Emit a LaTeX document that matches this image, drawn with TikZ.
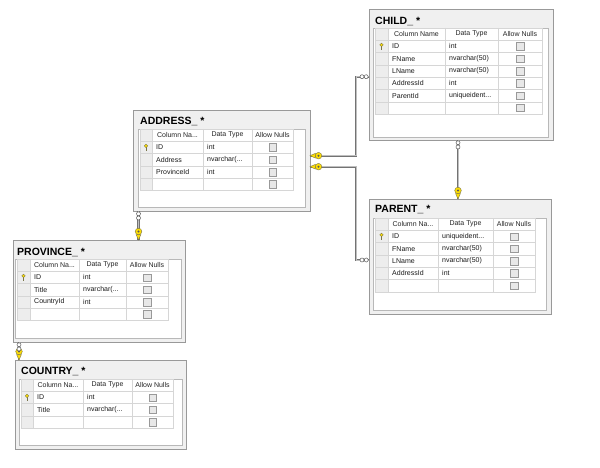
\documentclass[tikz,border=0pt]{standalone}
\usepackage{fontspec}
\setmainfont{Liberation Sans}

\begin{document}
\begin{tikzpicture}[x=1pt, y=-1pt,
  tablebox/.style={draw=black!40, fill=black!6, anchor=north west, inner sep=0, outer sep=0},
  panel/.style={draw=black!28, fill=white},
  cellline/.style={draw=black!16, line width=0.4pt},
  selcol/.style={fill=black!7},
  tabletitle/.style={anchor=west, inner sep=0, font=\fontsize{10.5}{12}\selectfont\bfseries},
  head/.style={inner sep=0, font=\fontsize{7}{8}\selectfont, text=black!85},
  entry/.style={anchor=west, inner sep=0, font=\fontsize{7}{8}\selectfont, text=black!90},
  nullbox/.style={draw=black!40, fill=black!9, minimum size=7.5pt, inner sep=0},
  relation/.style={draw=black!55, double=black!25, double distance=0.9pt, line width=0.6pt},
  keypart/.style={draw=black!60!yellow, fill=yellow!80!orange, line width=0.4pt},
  pics/relkey/.style={code={
    \filldraw[keypart] (0pt,0pt) -- (5.5pt,2.4pt) -- (5.5pt,-2.4pt) -- cycle;
    \filldraw[keypart] (8.5pt,0pt) circle (3.3pt);
    \fill[black!65] (8.5pt,0pt) circle (1.1pt);
  }},
  pics/relmany/.style={code={
    \filldraw[draw=black!65, fill=white, line width=0.5pt]
      (-2.8pt,0pt) circle (2pt) (-7pt,0pt) circle (2pt);
  }},
  pics/idkey/.style={code={
    \draw[black!60!yellow, line width=0.9pt] (0pt,0.5pt) -- (0pt,-3.2pt);
    \filldraw[keypart, line width=0.3pt] (0pt,1.6pt) circle (1.8pt);
  }},
]
\path[use as bounding box, fill=white] (0,0) rectangle (600,468);

% table frames
\node[tablebox, minimum width=177pt, minimum height=101pt] (address) at (133,110) {};
\node[tablebox, minimum width=184pt, minimum height=131pt] (child) at (369,9) {};
\node[tablebox, minimum width=182pt, minimum height=115pt] (parent) at (369,199) {};
\node[tablebox, minimum width=172pt, minimum height=102pt] (province) at (13,240) {};
\node[tablebox, minimum width=171pt, minimum height=89pt] (country) at (15,360) {};

\draw[panel] (138,129) rectangle (305,207);
\draw[panel] (373,28) rectangle (548,137);
\draw[panel] (373,218) rectangle (546,310);
\draw[panel] (15,259) rectangle (181,338);
\draw[panel] (19,379) rectangle (182,445);

\node[tabletitle] (adr-title) at (140,121) {ADDRESS\_ *};
\node[tabletitle] (chi-title) at (375,21) {CHILD\_ *};
\node[tabletitle] (par-title) at (375,210) {PARENT\_ *};
\node[tabletitle] (pro-title) at (17,252) {PROVINCE\_ *};
\node[tabletitle] (cou-title) at (21,371) {COUNTRY\_ *};

% ADDRESS
\begin{scope}[shift={(140pt,-129pt)}, y=-12.3pt]
\fill[selcol] (0,0) rectangle (12,5);
\draw[cellline] (0,0) rectangle (153,5);
\draw[cellline] (0,1) -- (153,1) (0,2) -- (153,2) (0,3) -- (153,3) (0,4) -- (153,4);
\draw[cellline] (12,0) -- (12,5) (63,0) -- (63,5) (112,0) -- (112,5);
\node[head] (adr-h1) at (37.5,0.5) {Column Na...};
\node[head] (adr-h2) at (87.5,0.5) {Data Type};
\node[head] (adr-h3) at (132.5,0.5) {Allow Nulls};
\pic at (6,1.5) {idkey};
\node[entry] (adr-n1) at (16,1.5) {ID};
\node[entry] (adr-t1) at (67,1.5) {int};
\node[entry] (adr-n2) at (16,2.5) {Address};
\node[entry] (adr-t2) at (67,2.5) {nvarchar(...};
\node[entry] (adr-n3) at (16,3.5) {ProvinceId};
\node[entry] (adr-t3) at (67,3.5) {int};
\node[nullbox] (adr-c1) at (132.5,1.5) {};
\node[nullbox] (adr-c2) at (132.5,2.5) {};
\node[nullbox] (adr-c3) at (132.5,3.5) {};
\node[nullbox] (adr-c4) at (132.5,4.5) {};
\end{scope}

% CHILD
\begin{scope}[shift={(375pt,-28pt)}, y=-12.3pt]
\fill[selcol] (0,0) rectangle (13,7);
\draw[cellline] (0,0) rectangle (167,7);
\draw[cellline] (0,1) -- (167,1) (0,2) -- (167,2) (0,3) -- (167,3) (0,4) -- (167,4) (0,5) -- (167,5) (0,6) -- (167,6);
\draw[cellline] (13,0) -- (13,7) (70,0) -- (70,7) (123,0) -- (123,7);
\node[head] (chi-h1) at (41.5,0.5) {Column Name};
\node[head] (chi-h2) at (96.5,0.5) {Data Type};
\node[head] (chi-h3) at (145,0.5) {Allow Nulls};
\pic at (6.5,1.5) {idkey};
\node[entry] (chi-n1) at (17,1.5) {ID};
\node[entry] (chi-t1) at (74,1.5) {int};
\node[entry] (chi-n2) at (17,2.5) {FName};
\node[entry] (chi-t2) at (74,2.5) {nvarchar(50)};
\node[entry] (chi-n3) at (17,3.5) {LName};
\node[entry] (chi-t3) at (74,3.5) {nvarchar(50)};
\node[entry] (chi-n4) at (17,4.5) {AddressId};
\node[entry] (chi-t4) at (74,4.5) {int};
\node[entry] (chi-n5) at (17,5.5) {ParentId};
\node[entry] (chi-t5) at (74,5.5) {uniqueident...};
\node[nullbox] (chi-c1) at (145,1.5) {};
\node[nullbox] (chi-c2) at (145,2.5) {};
\node[nullbox] (chi-c3) at (145,3.5) {};
\node[nullbox] (chi-c4) at (145,4.5) {};
\node[nullbox] (chi-c5) at (145,5.5) {};
\node[nullbox] (chi-c6) at (145,6.5) {};
\end{scope}

% PARENT
\begin{scope}[shift={(375pt,-218pt)}, y=-12.3pt]
\fill[selcol] (0,0) rectangle (13,6);
\draw[cellline] (0,0) rectangle (160,6);
\draw[cellline] (0,1) -- (160,1) (0,2) -- (160,2) (0,3) -- (160,3) (0,4) -- (160,4) (0,5) -- (160,5);
\draw[cellline] (13,0) -- (13,6) (63,0) -- (63,6) (118,0) -- (118,6);
\node[head] (par-h1) at (38,0.5) {Column Na...};
\node[head] (par-h2) at (90.5,0.5) {Data Type};
\node[head] (par-h3) at (139,0.5) {Allow Nulls};
\pic at (6.5,1.5) {idkey};
\node[entry] (par-n1) at (17,1.5) {ID};
\node[entry] (par-t1) at (67,1.5) {uniqueident...};
\node[entry] (par-n2) at (17,2.5) {FName};
\node[entry] (par-t2) at (67,2.5) {nvarchar(50)};
\node[entry] (par-n3) at (17,3.5) {LName};
\node[entry] (par-t3) at (67,3.5) {nvarchar(50)};
\node[entry] (par-n4) at (17,4.5) {AddressId};
\node[entry] (par-t4) at (67,4.5) {int};
\node[nullbox] (par-c1) at (139,1.5) {};
\node[nullbox] (par-c2) at (139,2.5) {};
\node[nullbox] (par-c3) at (139,3.5) {};
\node[nullbox] (par-c4) at (139,4.5) {};
\node[nullbox] (par-c5) at (139,5.5) {};
\end{scope}

% PROVINCE
\begin{scope}[shift={(17pt,-259pt)}, y=-12.3pt]
\fill[selcol] (0,0) rectangle (13,5);
\draw[cellline] (0,0) rectangle (151,5);
\draw[cellline] (0,1) -- (151,1) (0,2) -- (151,2) (0,3) -- (151,3) (0,4) -- (151,4);
\draw[cellline] (13,0) -- (13,5) (62,0) -- (62,5) (109,0) -- (109,5);
\node[head] (pro-h1) at (37.5,0.5) {Column Na...};
\node[head] (pro-h2) at (85.5,0.5) {Data Type};
\node[head] (pro-h3) at (130,0.5) {Allow Nulls};
\pic at (6.5,1.5) {idkey};
\node[entry] (pro-n1) at (17,1.5) {ID};
\node[entry] (pro-t1) at (66,1.5) {int};
\node[entry] (pro-n2) at (17,2.5) {Title};
\node[entry] (pro-t2) at (66,2.5) {nvarchar(...};
\node[entry] (pro-n3) at (17,3.5) {CountryId};
\node[entry] (pro-t3) at (66,3.5) {int};
\node[nullbox] (pro-c1) at (130,1.5) {};
\node[nullbox] (pro-c2) at (130,2.5) {};
\node[nullbox] (pro-c3) at (130,3.5) {};
\node[nullbox] (pro-c4) at (130,4.5) {};
\end{scope}

% COUNTRY
\begin{scope}[shift={(21pt,-379pt)}, y=-12.3pt]
\fill[selcol] (0,0) rectangle (12,4);
\draw[cellline] (0,0) rectangle (152,4);
\draw[cellline] (0,1) -- (152,1) (0,2) -- (152,2) (0,3) -- (152,3);
\draw[cellline] (12,0) -- (12,4) (62,0) -- (62,4) (111,0) -- (111,4);
\node[head] (cou-h1) at (37,0.5) {Column Na...};
\node[head] (cou-h2) at (86.5,0.5) {Data Type};
\node[head] (cou-h3) at (131.5,0.5) {Allow Nulls};
\pic at (6,1.5) {idkey};
\node[entry] (cou-n1) at (16,1.5) {ID};
\node[entry] (cou-t1) at (66,1.5) {int};
\node[entry] (cou-n2) at (16,2.5) {Title};
\node[entry] (cou-t2) at (66,2.5) {nvarchar(...};
\node[nullbox] (cou-c1) at (131.5,1.5) {};
\node[nullbox] (cou-c2) at (131.5,2.5) {};
\node[nullbox] (cou-c3) at (131.5,3.5) {};
\end{scope}

% relationships
\coordinate (adr-r1) at ([yshift=-45.7pt]address.north east);
\coordinate (adr-r2) at ([yshift=-56.7pt]address.north east);
\coordinate (adr-b) at ([xshift=5.5pt]address.south west);
\coordinate (chi-l) at ([yshift=-67.7pt]child.north west);
\coordinate (chi-b) at ([xshift=89pt]child.south west);
\coordinate (par-l) at ([yshift=-61pt]parent.north west);
\coordinate (par-t) at ([xshift=89pt]parent.north west);
\coordinate (pro-t) at ([xshift=125.5pt]province.north west);
\coordinate (pro-b) at ([xshift=6pt]province.south west);
\coordinate (cou-t) at ([xshift=4pt]country.north west);

\draw[relation] (adr-r1) -- ++(46,0) |- (chi-l);
\draw[relation] (adr-r2) -- ++(46,0) |- (par-l);
\draw[relation] (chi-b) -- (par-t);
\draw[relation] (adr-b) -- (pro-t);
\draw[relation] (pro-b) -- (cou-t);

\pic at (adr-r1) {relkey};
\pic at (adr-r2) {relkey};
\pic[rotate=90] at (par-t) {relkey};
\pic[rotate=90] at (pro-t) {relkey};
\pic[rotate=90] at (cou-t) {relkey};
\pic at (chi-l) {relmany};
\pic at (par-l) {relmany};
\pic[rotate=90] at (chi-b) {relmany};
\pic[rotate=90] at (adr-b) {relmany};
\pic[rotate=90] at (pro-b) {relmany};
\end{tikzpicture}
\end{document}
